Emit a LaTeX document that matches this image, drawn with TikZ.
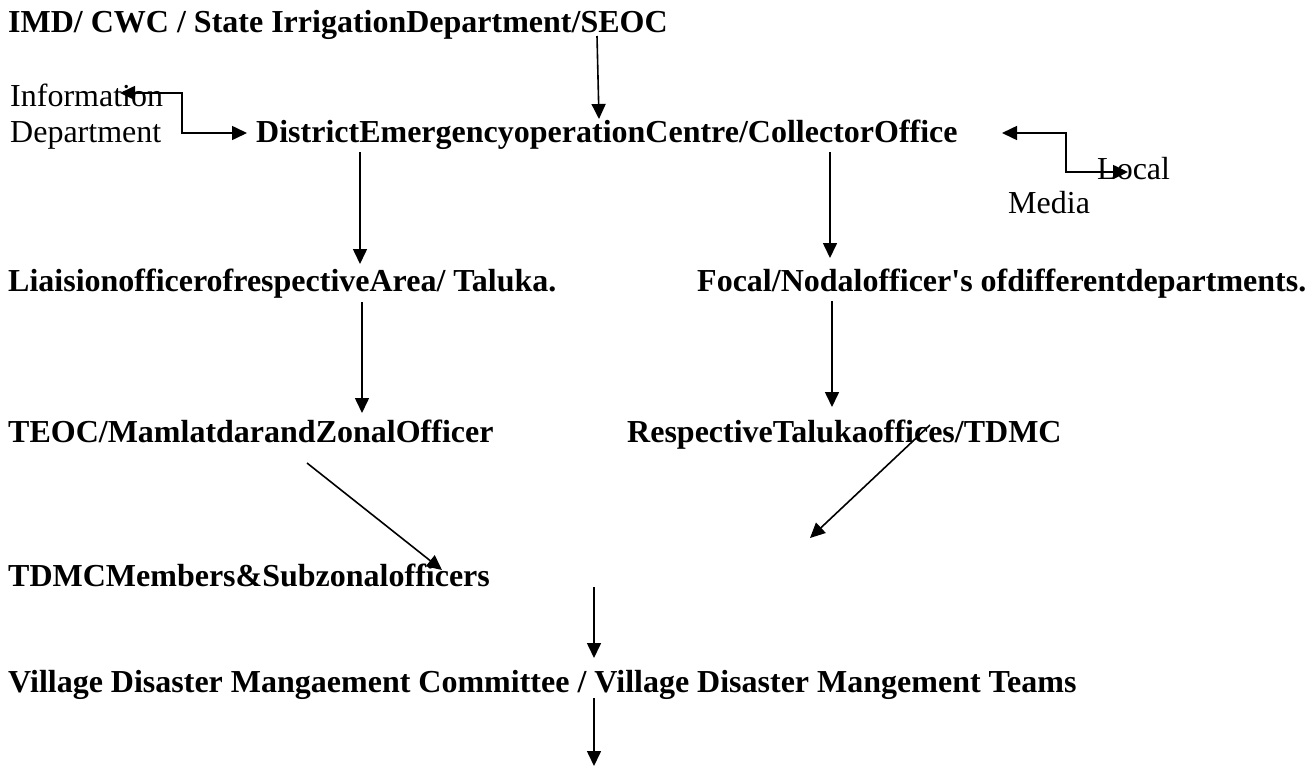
\documentclass[tikz,border=0pt]{standalone}
\usepackage{fontspec}
\setmainfont{Liberation Serif}[Ligatures=TeXOff]
\usetikzlibrary{arrows.meta}
\begin{document}
\begin{tikzpicture}[x=1pt,y=-1pt,
  lbl/.style={anchor=base west,inner sep=0pt,font=\fontsize{32}{36}\selectfont\bfseries},
  plainlbl/.style={anchor=base west,inner sep=0pt,font=\fontsize{32}{36}\selectfont},
  wire/.style={line width=1.6pt},
  link/.style={wire,-{Triangle[length=15pt,width=14pt]}},
  duplex/.style={wire,{Triangle[length=15pt,width=14pt]}-{Triangle[length=15pt,width=14pt]}}]
\useasboundingbox[fill=white] (0,0) rectangle (1312,766);

% ---- text blocks ----
\node[lbl] (src) at (8,32) {IMD/ CWC / State IrrigationDepartment/SEOC};
\node[plainlbl] (info1) at (10,106) {Information};
\node[plainlbl] (info2) at (10,142) {Department};
\node[lbl] (deoc) at (256,142) {DistrictEmergencyoperationCentre/CollectorOffice};
\node[plainlbl] (media1) at (1097,179) {Local};
\node[plainlbl] (media2) at (1008,213) {Media};
\node[lbl] (liaison) at (8,291) {LiaisionofficerofrespectiveArea/ Taluka.};
\node[lbl] (focal) at (697,291) {Focal/Nodalofficer's ofdifferentdepartments.};
\node[lbl] (teoc) at (8,442) {TEOC/MamlatdarandZonalOfficer};
\node[lbl] (taluka) at (627,442) {RespectiveTalukaoffices/TDMC};
\node[lbl] (tdmc) at (8,586) {TDMCMembers\&Subzonalofficers};
\node[lbl] (vdmc) at (8,692) {Village Disaster Mangaement Committee / Village Disaster Mangement Teams};

% ---- connector ends ----
\coordinate (infoTip) at (120,93);
\coordinate (infoBendA) at (182,93);
\coordinate (infoBendB) at (182,133);
\coordinate (deocWest) at (247,133);
\coordinate (deocEast) at (1002,133);
\coordinate (mediaBendA) at (1066,133);
\coordinate (mediaBendB) at (1066,172);
\coordinate (mediaTip) at (1128,172);
\coordinate (srcOut) at (597,36);
\coordinate (deocIn) at (599,119);
\coordinate (deocOutL) at (360,152);
\coordinate (liaisonIn) at (360,264);
\coordinate (deocOutR) at (830,152);
\coordinate (focalIn) at (830,258);
\coordinate (liaisonOut) at (362,302);
\coordinate (teocIn) at (362,413);
\coordinate (focalOut) at (832,301);
\coordinate (talukaIn) at (832,407);
\coordinate (teocOut) at (307,463);
\coordinate (tdmcIn) at (442,570);
\coordinate (talukaOut) at (930,425);
\coordinate (openEnd) at (810,538);
\coordinate (tdmcOut) at (594,587);
\coordinate (vdmcIn) at (594,658);
\coordinate (vdmcOut) at (594,698);
\coordinate (bottomEnd) at (594,766);

% ---- connectors ----
\draw[duplex] (infoTip) -- (infoBendA) -- (infoBendB) -- (deocWest);
\draw[duplex] (deocEast) -- (mediaBendA) -- (mediaBendB) -- (mediaTip);
\draw[link] (srcOut) -- (deocIn);
\draw[link] (deocOutL) -- (liaisonIn);
\draw[link] (deocOutR) -- (focalIn);
\draw[link] (liaisonOut) -- (teocIn);
\draw[link] (focalOut) -- (talukaIn);
\draw[link] (teocOut) -- (tdmcIn);
\draw[link] (talukaOut) -- (openEnd);
\draw[link] (tdmcOut) -- (vdmcIn);
\draw[link] (vdmcOut) -- (bottomEnd);
\end{tikzpicture}
\end{document}
